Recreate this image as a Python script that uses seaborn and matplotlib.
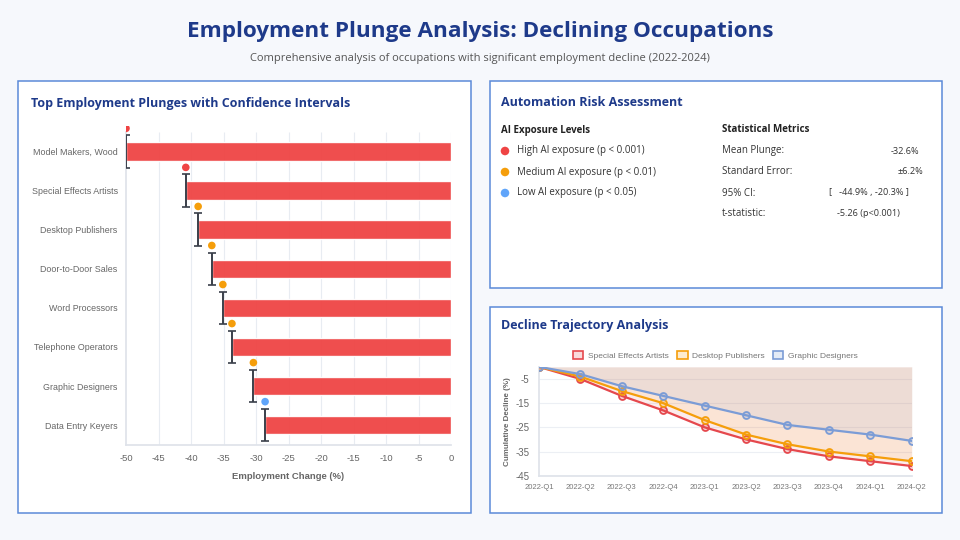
import numpy as np
import pandas as pd
import matplotlib
matplotlib.use("Agg")
import matplotlib.pyplot as plt
from matplotlib.patches import Rectangle, Patch
import seaborn as sns

# data
occupations = ["Model Makers, Wood", "Special Effects Artists", "Desktop Publishers",
               "Door-to-Door Sales", "Word Processors", "Telephone Operators",
               "Graphic Designers", "Data Entry Keyers"]
plunge = [-50.0, -40.8, -38.9, -36.8, -35.1, -33.7, -30.4, -28.6]
exposure = ["High", "High", "Medium", "Medium", "Medium", "Medium", "Medium", "Low"]

quarters = ["2022-Q1", "2022-Q2", "2022-Q3", "2022-Q4", "2023-Q1", "2023-Q2",
            "2023-Q3", "2023-Q4", "2024-Q1", "2024-Q2"]
special_effects = [0, -5, -12, -18, -25, -30, -34, -37, -39, -41]
desktop_pub = [0, -4, -10, -15, -22, -28, -32, -35, -37, -39]
graphic_des = [0, -3, -8, -12, -16, -20, -24, -26, -28, -30.6]

exposure_labels = ["High AI exposure (p < 0.001)", "Medium AI exposure (p < 0.01)",
                   "Low AI exposure (p < 0.05)"]
metric_names = ["Mean Plunge:", "Standard Error:", "95% CI:", "t-statistic:"]
metric_values = ["-32.6%", "±6.2%", "[   -44.9% , -20.3% ]", "-5.26 (p<0.001)"]

exp_colors = {"High": "#ef4444", "Medium": "#f59e0b", "Low": "#60a5fa"}
line_colors = ["#e5484d", "#f59e0b", "#7b9cd6"]
navy = "#1e3a8a"
border = "#5b8ad8"

sns.set_theme(style="white")
plt.rcParams["font.family"] = ["Liberation Sans", "DejaVu Sans"]
plt.rcParams["axes.unicode_minus"] = False

fig = plt.figure(figsize=(9.6, 5.4), dpi=100)
fig.patch.set_facecolor("#f6f8fc")

# background canvas in pixel coords
bg = fig.add_axes([0, 0, 1, 1], zorder=0)
bg.set_xlim(0, 960)
bg.set_ylim(540, 0)
bg.axis("off")

for (x0, y0, x1, y1) in [(18, 81, 471, 513), (490, 81, 942, 288), (490, 307, 942, 513)]:
    bg.add_patch(Rectangle((x0, y0), x1 - x0, y1 - y0, facecolor="white",
                           edgecolor=border, linewidth=1.1))

hfont = ["Open Sans", "DejaVu Sans"]
bg.text(480, 31, "Employment Plunge Analysis: Declining Occupations", ha="center", va="center",
        fontsize=16.2, fontweight="bold", color=navy, family=hfont)
bg.text(480, 58, "Comprehensive analysis of occupations with significant employment decline (2022-2024)",
        ha="center", va="center", fontsize=8.0, color="#555555", family=hfont)

bg.text(31, 103, "Top Employment Plunges with Confidence Intervals", ha="left", va="center",
        fontsize=9.0, fontweight="bold", color=navy, family=hfont)
bg.text(501, 103, "Automation Risk Assessment", ha="left", va="center",
        fontsize=9.0, fontweight="bold", color=navy, family=hfont)
bg.text(501, 325, "Decline Trajectory Analysis", ha="left", va="center",
        fontsize=9.0, fontweight="bold", color=navy, family=hfont)

# risk panel
bg.text(501, 130, "AI Exposure Levels", ha="left", va="center", fontsize=7,
        fontweight="bold", color="#222222", family=hfont)
bg.text(722, 130, "Statistical Metrics", ha="left", va="center", fontsize=7,
        fontweight="bold", color="#222222", family=hfont)
for i, (lab, c) in enumerate(zip(exposure_labels, exp_colors.values())):
    y = 151 + 21 * i
    bg.scatter([505], [y], s=38, color=c, edgecolor="none")
    bg.text(517, y, lab, ha="left", va="center", fontsize=7, color="#333333", family=hfont)
val_x = [891, 898, 829, 837]
for i, (name, val) in enumerate(zip(metric_names, metric_values)):
    y = 151 + 21 * i
    bg.text(722, y, name, ha="left", va="center", fontsize=7, color="#333333", family=hfont)
    bg.text(val_x[i], y, val, ha="left", va="center", fontsize=6.6, color="#333333", family=hfont)

# left bar chart
ax = fig.add_axes([126 / 960, 1 - 444.6 / 540, 325 / 960, 318.2 / 540], zorder=2)
df = pd.DataFrame({"Occupation": occupations, "Change": plunge, "Exposure": exposure})
sns.barplot(data=df, x="Change", y="Occupation", orient="h", color="#ef4444",
            width=0.48, saturation=1, ax=ax, zorder=3)
for p in ax.patches:
    p.set_alpha(0.95)
pos = np.arange(len(occupations))
ax.errorbar(plunge, pos, yerr=0.42, fmt="none", ecolor="#3a3f4a", elinewidth=1.4,
            capsize=3, capthick=1.2, zorder=4)
ax.scatter(plunge, pos - 0.6, s=30, c=[exp_colors[e] for e in exposure],
           edgecolor="none", zorder=5)
ax.set_xlim(-50, 0)
ax.set_ylim(len(occupations) - 0.5, -0.65)
ax.set_xticks(np.arange(-50, 1, 5))
ax.vlines(np.arange(-45, 1, 5), -0.5, len(occupations) - 0.5, color="#e8ecf2",
          linewidth=0.8, zorder=1)
ax.tick_params(axis="both", labelsize=6.4, colors="#666666", length=0, pad=6)
ax.tick_params(axis="x", length=4, color="#e0e4ea", pad=3, labelsize=6.8)
ax.set_xlabel("Employment Change (%)", fontsize=6.8, fontweight="bold", color="#666666", labelpad=6)
ax.set_ylabel("")
for s in ["top", "right"]:
    ax.spines[s].set_visible(False)
ax.spines["left"].set_color("#dfe3ea")
ax.spines["left"].set_bounds(-0.5, len(occupations) - 0.5)
ax.spines["bottom"].set_color("#dfe3ea")
ax.set_facecolor("none")

# line chart
ax2 = fig.add_axes([539 / 960, 1 - 475.7 / 540, 372.7 / 960, 108.8 / 540], zorder=2)
series = {"Special Effects Artists": special_effects,
          "Desktop Publishers": desktop_pub,
          "Graphic Designers": graphic_des}
xi = np.arange(len(quarters))
handles = []
for (name, vals), c in zip(series.items(), line_colors):
    ax2.fill_between(xi, vals, 0, color=c, alpha=0.1, linewidth=0, zorder=1)
    sns.lineplot(x=xi, y=vals, color=c, linewidth=1.6, marker="o", markersize=5,
                 markerfacecolor=matplotlib.colors.to_rgba(c, 0.25),
                 markeredgecolor=c, markeredgewidth=1.3, ax=ax2, zorder=3)
    handles.append(Patch(facecolor=matplotlib.colors.to_rgba(c, 0.2), edgecolor=c,
                         linewidth=1.2, label=name))
ax2.set_xlim(0, len(quarters) - 1)
ax2.set_ylim(-45, 0)
ax2.set_yticks([-45, -35, -25, -15, -5])
ax2.set_xticks(xi)
ax2.set_xticklabels(quarters)
ax2.yaxis.grid(True, color="#eceff4", linewidth=0.8)
ax2.tick_params(axis="x", labelsize=5.5, colors="#777777", length=0, pad=6)
ax2.tick_params(axis="y", labelsize=7, colors="#666666", length=4, color="#e5e8ee", pad=3)
ax2.set_ylabel("Cumulative Decline (%)", fontsize=5.8, fontweight="bold", color="#666666", labelpad=3)
for s in ["top", "right"]:
    ax2.spines[s].set_visible(False)
ax2.spines["left"].set_color("#dfe3ea")
ax2.spines["bottom"].set_color("#dfe3ea")
ax2.set_facecolor("none")
fig.legend(handles=handles, loc="center", bbox_to_anchor=(715 / 960, 1 - 355.5 / 540),
           ncol=3, frameon=False, fontsize=6, labelcolor="#777777", handlelength=1.3,
           handleheight=1.1, columnspacing=1.0, handletextpad=0.5)

fig.savefig("out.png", dpi=100, facecolor=fig.get_facecolor())
